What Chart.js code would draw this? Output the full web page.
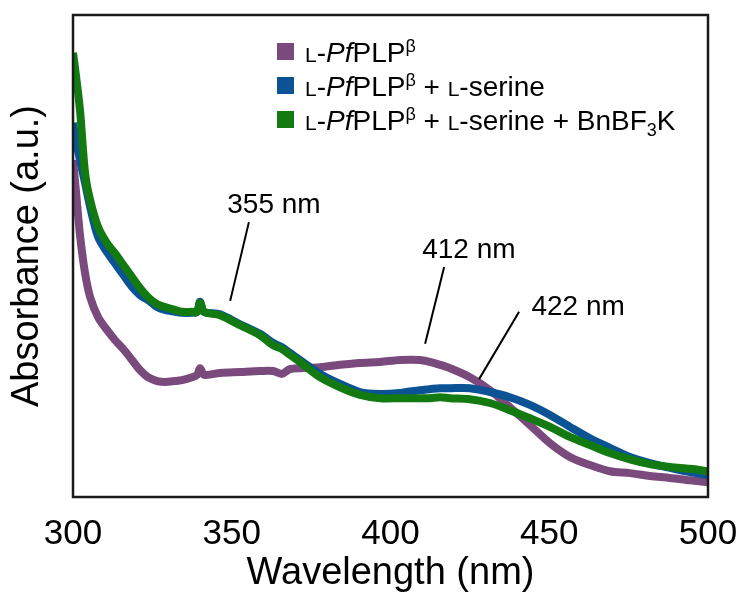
<!DOCTYPE html>
<html lang="en">
<head>
    <meta charset="UTF-8">
    <title>Absorbance spectra</title>
    <script src="https://cdn.jsdelivr.net/npm/chart.js"></script>
    <style>
        body { margin: 0; background: #fff; }
    </style>
</head>
<body>
    <canvas id="myChart" width="741" height="596"></canvas>

    <script>
        // wavelength (nm), shared by the three spectra
        const wavelengths = [300.0, 300.9, 302.2, 303.8, 305.4, 307.9, 310.7, 313.2, 316.1, 318.6,
            321.1, 323.6, 326.5, 329.0, 332.1, 334.3, 337.5, 339.1, 340.0, 341.3,
            346.3, 352.6, 358.9, 363.0, 365.8, 368.3, 371.5, 377.8, 384.1, 390.4,
            396.7, 403.0, 409.3, 412.4, 415.6, 418.7, 425.0, 431.3, 437.6, 443.9,
            450.2, 456.5, 462.8, 469.1, 475.4, 481.7, 488.0, 494.3, 500.0];

        // absorbance (a.u.)
        const enzyme = [0.702, 0.639, 0.545, 0.465, 0.415, 0.373, 0.346, 0.325, 0.304, 0.283,
            0.262, 0.247, 0.239, 0.237, 0.239, 0.241, 0.247, 0.252, 0.266, 0.252,
            0.256, 0.258, 0.260, 0.260, 0.254, 0.264, 0.266, 0.268, 0.273, 0.277,
            0.279, 0.283, 0.283, 0.279, 0.273, 0.266, 0.247, 0.220, 0.184, 0.147,
            0.109, 0.080, 0.063, 0.050, 0.046, 0.040, 0.036, 0.031, 0.027];
        const withSerine = [0.780, 0.744, 0.702, 0.654, 0.604, 0.541, 0.509, 0.486, 0.459, 0.436,
            0.419, 0.409, 0.394, 0.388, 0.384, 0.382, 0.382, 0.384, 0.405, 0.384,
            0.379, 0.358, 0.338, 0.319, 0.310, 0.298, 0.283, 0.254, 0.233, 0.216,
            0.212, 0.214, 0.220, 0.222, 0.224, 0.224, 0.224, 0.216, 0.205, 0.189,
            0.168, 0.143, 0.119, 0.099, 0.080, 0.067, 0.057, 0.048, 0.042];
        const withBorate = [0.927, 0.881, 0.807, 0.675, 0.618, 0.562, 0.528, 0.507, 0.480, 0.457,
            0.434, 0.415, 0.400, 0.394, 0.388, 0.384, 0.384, 0.384, 0.403, 0.384,
            0.377, 0.356, 0.335, 0.314, 0.306, 0.294, 0.279, 0.247, 0.226, 0.210,
            0.203, 0.203, 0.203, 0.203, 0.205, 0.203, 0.201, 0.193, 0.178, 0.161,
            0.143, 0.122, 0.105, 0.088, 0.075, 0.065, 0.059, 0.055, 0.050];

        const xTicks = [300, 350, 400, 450, 500];
        const colors = ['#7a4a7d', '#0b5394', '#137a12'];

        // peak labels: text position and leader line (data units)
        const peakLabels = ['355 nm', '412 nm', '422 nm'];
        const peakTextX = [363.3, 424.7, 459.1];
        const peakTextY = [0.608, 0.512, 0.394];
        const peakFromX = [355.4, 416.9, 440.5];
        const peakFromY = [0.572, 0.478, 0.384];
        const peakToX = [349.5, 410.9, 427.9];
        const peakToY = [0.407, 0.317, 0.243];

        // legend pieces: sc = small caps, it = italic, sup / sub
        const legendItems = [
            [{t: 'L', sc: true}, {t: '-'}, {t: 'Pf', it: true}, {t: 'PLP'}, {t: 'β', sup: true}],
            [{t: 'L', sc: true}, {t: '-'}, {t: 'Pf', it: true}, {t: 'PLP'}, {t: 'β', sup: true},
             {t: ' + '}, {t: 'L', sc: true}, {t: '-serine'}],
            [{t: 'L', sc: true}, {t: '-'}, {t: 'Pf', it: true}, {t: 'PLP'}, {t: 'β', sup: true},
             {t: ' + '}, {t: 'L', sc: true}, {t: '-serine + BnBF'}, {t: '3', sub: true}, {t: 'K'}]
        ];

        const FONT = "'Liberation Sans', Arial, sans-serif";
        Chart.defaults.font.family = FONT;
        Chart.defaults.color = '#000';

        const toPoints = vals => wavelengths.map((w, i) => ({x: w, y: vals[i]}));

        // frame, legend and peak labels
        const extras = {
            id: 'extras',
            afterDraw(chart) {
                const ctx = chart.ctx;
                const a = chart.chartArea;
                const xs = chart.scales.x, ys = chart.scales.y;
                ctx.save();
                ctx.strokeStyle = '#1a1a1a';
                ctx.lineWidth = 2.5;
                ctx.strokeRect(a.left, a.top, a.right - a.left, a.bottom - a.top);

                // legend
                const size = 28;
                legendItems.forEach((parts, row) => {
                    const base = 62 + row * 34;
                    ctx.fillStyle = colors[row];
                    ctx.fillRect(277, base - 19, 17, 17);
                    let x = 305;
                    ctx.fillStyle = '#000';
                    ctx.textBaseline = 'alphabetic';
                    ctx.textAlign = 'left';
                    parts.forEach(p => {
                        let fs = size, dy = 0, style = '';
                        if (p.sc) fs = 21;
                        if (p.sup) { fs = 18; dy = -10; }
                        if (p.sub) { fs = 18; dy = 6; }
                        if (p.it) style = 'italic ';
                        ctx.font = style + fs + 'px ' + FONT;
                        ctx.fillText(p.t, x, base + dy);
                        x += ctx.measureText(p.t).width;
                    });
                });

                // peak labels
                ctx.font = '28px ' + FONT;
                ctx.textAlign = 'center';
                ctx.textBaseline = 'middle';
                ctx.lineWidth = 2;
                ctx.strokeStyle = '#000';
                peakLabels.forEach((txt, i) => {
                    ctx.fillText(txt, xs.getPixelForValue(peakTextX[i]), ys.getPixelForValue(peakTextY[i]));
                    ctx.beginPath();
                    ctx.moveTo(xs.getPixelForValue(peakFromX[i]), ys.getPixelForValue(peakFromY[i]));
                    ctx.lineTo(xs.getPixelForValue(peakToX[i]), ys.getPixelForValue(peakToY[i]));
                    ctx.stroke();
                });
                ctx.restore();
            }
        };

        const lineSet = (label, vals, color, order) => ({
            label: label,
            data: toPoints(vals),
            borderColor: color,
            backgroundColor: color,
            borderWidth: 8,
            pointRadius: 0,
            tension: 0.3,
            order: order
        });

        const ctx = document.getElementById('myChart').getContext('2d');
        const myChart = new Chart(ctx, {
            type: 'line',
            data: {
                datasets: [
                    lineSet('L-PfPLPβ', enzyme, colors[0], 3),
                    lineSet('L-PfPLPβ + L-serine', withSerine, colors[1], 2),
                    lineSet('L-PfPLPβ + L-serine + BnBF3K', withBorate, colors[2], 1)
                ]
            },
            options: {
                responsive: false,
                animation: false,
                layout: { padding: { top: 15, right: 33, left: 0, bottom: 0 } },
                plugins: { legend: { display: false }, tooltip: { enabled: false } },
                scales: {
                    x: {
                        type: 'linear',
                        min: 300,
                        max: 500,
                        afterBuildTicks: s => { s.ticks = xTicks.map(v => ({value: v})); },
                        grid: { display: false, drawTicks: false },
                        border: { display: false },
                        ticks: { font: { size: 35 }, padding: 16, color: '#000', maxRotation: 0 },
                        title: { display: true, text: 'Wavelength (nm)', font: { size: 38 },
                                 padding: { top: 0, bottom: 0 }, color: '#000' },
                        afterFit: s => { s.height = 99; s.paddingLeft = 0; s.paddingRight = 0; }
                    },
                    y: {
                        min: -0.004,
                        max: 1.006,
                        grid: { display: false, drawTicks: false },
                        border: { display: false },
                        ticks: { display: false },
                        title: { display: true, text: 'Absorbance (a.u.)', font: { size: 38 },
                                 padding: { top: 5, bottom: 0 }, color: '#000' },
                        afterFit: s => { s.width = 73; }
                    }
                }
            },
            plugins: [extras]
        });
    </script>
</body>
</html>
